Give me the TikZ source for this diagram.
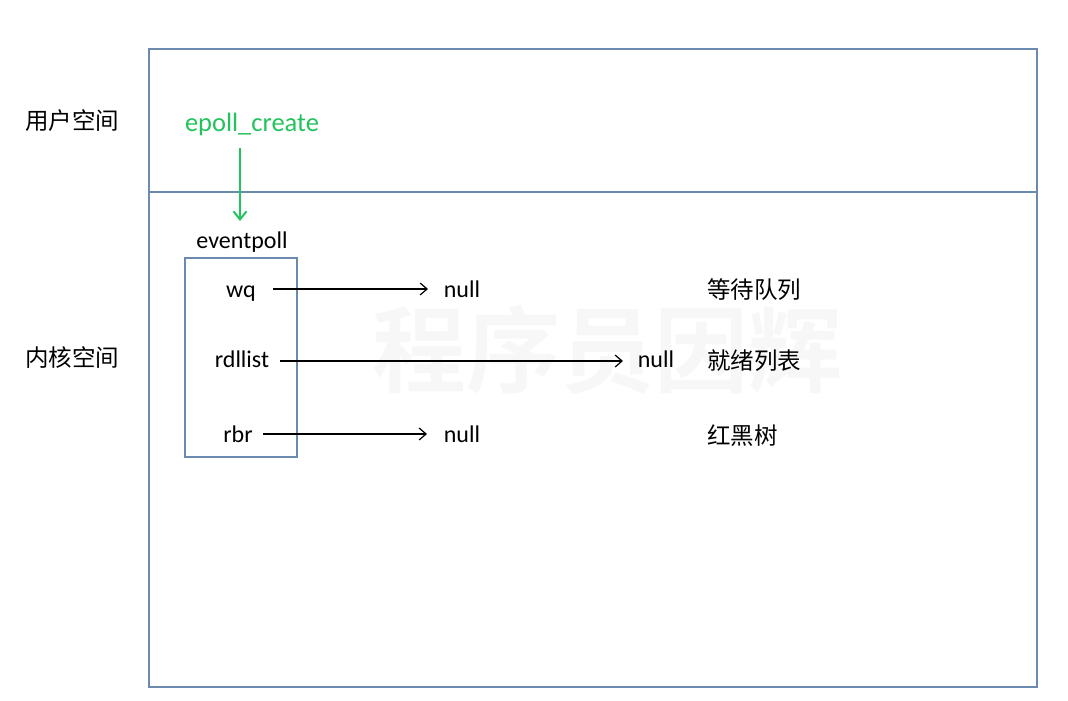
\documentclass[tikz,border=0pt]{standalone}
\usepackage{fontspec}
\setmainfont{Carlito}
\newfontfamily\cjk{Noto Sans CJK SC}
\newfontfamily\cjkbold{Noto Sans CJK SC Bold}
\usetikzlibrary{arrows.meta}
\definecolor{boxline}{HTML}{6A8BAE}
\definecolor{epgreen}{HTML}{22C35C}
\tikzset{
  frame/.style={draw=boxline, line width=1.2pt},
  lbl/.style={inner sep=0pt, font=\fontsize{24}{28}\selectfont, text=black, text height=17pt, text depth=5pt},
  cjklbl/.style={inner sep=0pt, font=\cjk\fontsize{23.5}{26}\selectfont, text=black},
  ptr/.style={draw=black, line width=1.2pt, -{Straight Barb[length=7pt, width=12pt, line width=1.2pt]}},
}
\begin{document}
\begin{tikzpicture}[x=1pt, y=-1pt]
\useasboundingbox (0,0) rectangle (1068,701);
% watermark
\node[inner sep=0pt, font=\cjkbold\fontsize{94}{98}\selectfont, text=black!3] (wm) at (607,350) {程序员因辉};
% outer frame
\draw[frame] (149,49) rectangle (1037,687);
\coordinate (divL) at (149,192);
\coordinate (divR) at (1037,192);
\draw[frame] (divL) -- (divR);
% space labels
\node[cjklbl] (user) at (72,121) {用户空间};
\node[cjklbl] (kernel) at (72,358) {内核空间};
% epoll_create
\node[inner sep=0pt, font=\fontsize{26.5}{30}\selectfont, text=epgreen, text height=19pt, text depth=6pt] (create) at (252,125) {epoll\_create};
\node[lbl] (ep) at (242,242) {eventpoll};
\coordinate (gs) at (240,148);
\coordinate (ge) at (240,221);
\draw[draw=epgreen, line width=2pt, -{Straight Barb[length=8pt, width=13pt, line width=2pt]}] (gs) -- (ge);
% eventpoll box
\node[draw=boxline, line width=1.2pt, minimum width=112pt, minimum height=199pt, inner sep=0pt] (epbox) at (241,357.5) {};
% fields
\node[lbl] (wq) at (241,291) {wq};
\node[lbl] (rdl) at (242,361) {rdllist};
\node[lbl] (rbr) at (238,436) {rbr};
\node[lbl] (n1) at (462,291) {null};
\node[lbl] (n2) at (656,361) {null};
\node[lbl] (n3) at (462,436) {null};
\draw[ptr] (273,289) -- (428,289);
\draw[ptr] (280,361) -- (623,361);
\draw[ptr] (263,434) -- (427,434);
% descriptions
\node[cjklbl, anchor=west] (d1) at (707,290) {等待队列};
\node[cjklbl, anchor=west] (d2) at (707,361) {就绪列表};
\node[cjklbl, anchor=west] (d3) at (707,436) {红黑树};
\end{tikzpicture}
\end{document}
